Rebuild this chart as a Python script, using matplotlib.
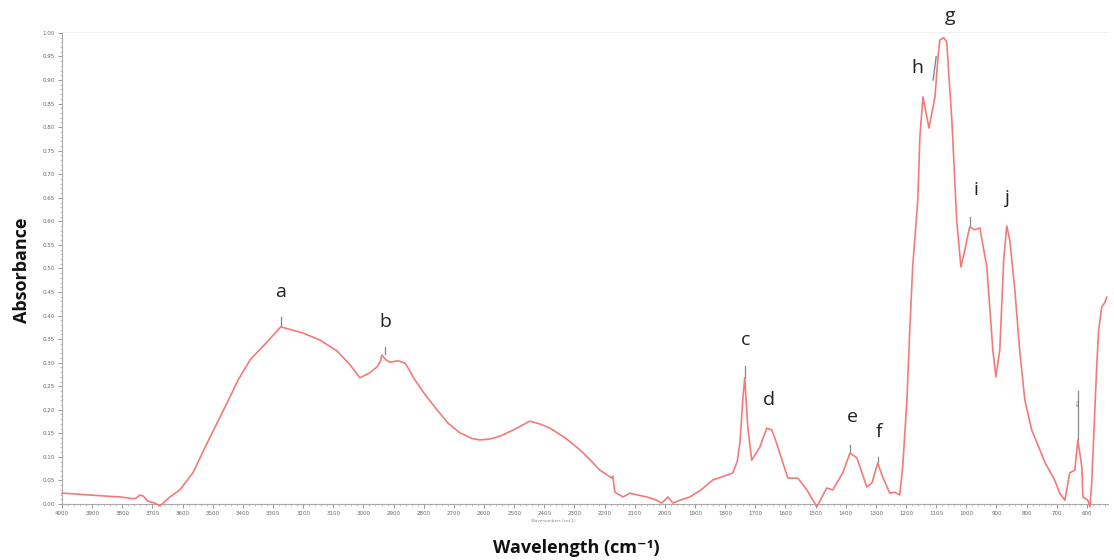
import matplotlib
matplotlib.use("Agg")
import matplotlib.pyplot as plt
from matplotlib.ticker import MultipleLocator, FormatStrFormatter

# Spectrum (wavenumber cm-1, absorbance)
wavenumber = [4000, 3950, 3907, 3860, 3808, 3770, 3758, 3741, 3731, 3715, 3692, 3675, 3642, 3609,
              3566, 3509, 3453, 3416, 3376, 3333, 3300, 3274, 3240, 3201, 3144, 3088, 3045, 3012,
              2980, 2955, 2945, 2939, 2925, 2912, 2885, 2862, 2850, 2836, 2800, 2756, 2720, 2680,
              2640, 2614, 2580, 2547, 2500, 2448, 2415, 2381, 2330, 2282, 2250, 2216, 2176,
              2173, 2166, 2139, 2116, 2090, 2060, 2035, 2010, 1990, 1973, 1950, 1917, 1880, 1841,
              1800, 1775, 1760, 1751, 1741, 1735, 1725, 1712, 1700, 1685, 1662, 1645, 1630, 1619,
              1592, 1559, 1529, 1496, 1463, 1443, 1410, 1386, 1363, 1330, 1313, 1294, 1277, 1254,
              1237, 1221, 1211, 1197, 1188, 1178, 1161, 1154, 1144, 1135, 1124, 1104, 1095, 1088,
              1075, 1065, 1048, 1032, 1018, 1005, 989, 972, 955, 932, 912, 902, 889, 876, 866,
              856, 839, 823, 806, 783, 756, 740, 707, 690, 673, 657, 640, 630, 617, 613, 597,
              590, 584, 574, 567, 561, 551, 541, 534]
absorbance = [0.023, 0.021, 0.019, 0.017, 0.015, 0.012, 0.011, 0.019, 0.017, 0.006, 0.002, -0.004,
              0.015, 0.030, 0.066, 0.142, 0.214, 0.263, 0.306, 0.335, 0.358, 0.376, 0.370, 0.363,
              0.348, 0.325, 0.296, 0.268, 0.278, 0.291, 0.301, 0.316, 0.306, 0.301, 0.304, 0.299,
              0.287, 0.270, 0.236, 0.200, 0.172, 0.151, 0.139, 0.136, 0.138, 0.144, 0.158, 0.176,
              0.170, 0.161, 0.140, 0.115, 0.095, 0.072, 0.055,
              0.059, 0.025, 0.015, 0.023, 0.019, 0.015, 0.010, 0.002, 0.015, 0.002, 0.008, 0.015,
              0.030, 0.051, 0.060, 0.066, 0.090, 0.130, 0.227, 0.268, 0.163, 0.093, 0.105, 0.121,
              0.161, 0.157, 0.130, 0.108, 0.055, 0.055, 0.030, -0.006, 0.034, 0.030, 0.066, 0.108,
              0.098, 0.036, 0.045, 0.087, 0.057, 0.023, 0.025, 0.019, 0.079, 0.221, 0.363, 0.503,
              0.645, 0.779, 0.864, 0.835, 0.798, 0.864, 0.940, 0.985, 0.990, 0.981, 0.815, 0.603,
              0.503, 0.539, 0.588, 0.582, 0.586, 0.503, 0.327, 0.270, 0.327, 0.518, 0.590, 0.561,
              0.454, 0.327, 0.221, 0.157, 0.115, 0.089, 0.051, 0.023, 0.008, 0.066, 0.072, 0.136,
              0.079, 0.015, 0.008, -0.006, 0.045, 0.193, 0.299, 0.369, 0.418, 0.427, 0.439]

# Peak letters: label, x (cm-1), y (absorbance)
peak_labels = ["a", "b", "c", "d", "e", "f", "g", "h", "i", "j"]
peak_label_x = [3274, 2929, 1732, 1655, 1377, 1290, 1055, 1164, 969, 866]
peak_label_y = [0.450, 0.386, 0.348, 0.221, 0.185, 0.153, 1.036, 0.926, 0.667, 0.650]

# Peak marker ticks: x, y bottom, y top
marker_x = [3274, 2929, 1735, 1386, 1294, 989, 630]
marker_y0 = [0.378, 0.318, 0.268, 0.110, 0.089, 0.590, 0.138]
marker_y1 = [0.398, 0.333, 0.292, 0.125, 0.100, 0.610, 0.240]

x_ticks = list(range(4000, 599, -100))
y_ticks = [round(v * 0.05, 2) for v in range(0, 21)]

fig = plt.figure(figsize=(11.14, 5.6), dpi=100)
ax = fig.add_axes([62 / 1114, 56 / 560, (1108 - 62) / 1114, (504 - 32) / 560])

ax.plot(wavenumber, absorbance, color="#f47a7a", lw=1.2, clip_on=False, zorder=3,
        solid_joinstyle="round")

ax.set_xlim(4000, 530)
ax.set_ylim(0, 1.002)

for xm, y0, y1 in zip(marker_x, marker_y0, marker_y1):
    ax.plot([xm, xm], [y0, y1], color="#888888", lw=0.9, zorder=2)
# slanted marker near h / g
ax.plot([1110, 1100], [0.90, 0.95], color="#7f8aa0", lw=1.0, zorder=2)
ax.text(627, 0.215, "619", fontsize=2.5, color="#666666", rotation=90, ha="center", va="center")

for lab, xl, yl in zip(peak_labels, peak_label_x, peak_label_y):
    ax.text(xl, yl, lab, fontsize=14, color="#222222", ha="center", va="center",
            family="Open Sans", clip_on=False)

ax.set_xticks(x_ticks)
ax.set_xticklabels([str(v) for v in x_ticks])
ax.xaxis.set_minor_locator(MultipleLocator(20))
ax.set_yticks(y_ticks)
ax.yaxis.set_major_formatter(FormatStrFormatter("%.2f"))
ax.yaxis.set_minor_locator(MultipleLocator(0.01))

ax.tick_params(axis="both", which="major", labelsize=4, colors="#888888", labelcolor="#666666",
               length=3, width=0.6, pad=2)
ax.tick_params(axis="both", which="minor", colors="#aaaaaa", length=1.5, width=0.5)

for side in ["left", "bottom"]:
    ax.spines[side].set_color("#aaaaaa")
    ax.spines[side].set_linewidth(0.8)
ax.spines["top"].set_color("#eeeeee")
ax.spines["top"].set_linewidth(0.6)
ax.spines["right"].set_visible(False)

ax.text(0.47, -0.035, "Wavenumbers (cm-1)", transform=ax.transAxes, fontsize=3,
        color="#888888", ha="center", va="center")

fig.text(22 / 1114, 1 - 270 / 560, "Absorbance", rotation=90, fontsize=13, fontweight="bold",
         family="Open Sans", ha="center", va="center", color="#111111")
fig.text(576 / 1114, 1 - 548 / 560, "Wavelength (cm\u207b\u00b9)", fontsize=13,
         fontweight="bold", family=["Open Sans", "DejaVu Sans"], ha="center", va="center",
         color="#111111")

fig.savefig("out.png", dpi=100, facecolor="white")
